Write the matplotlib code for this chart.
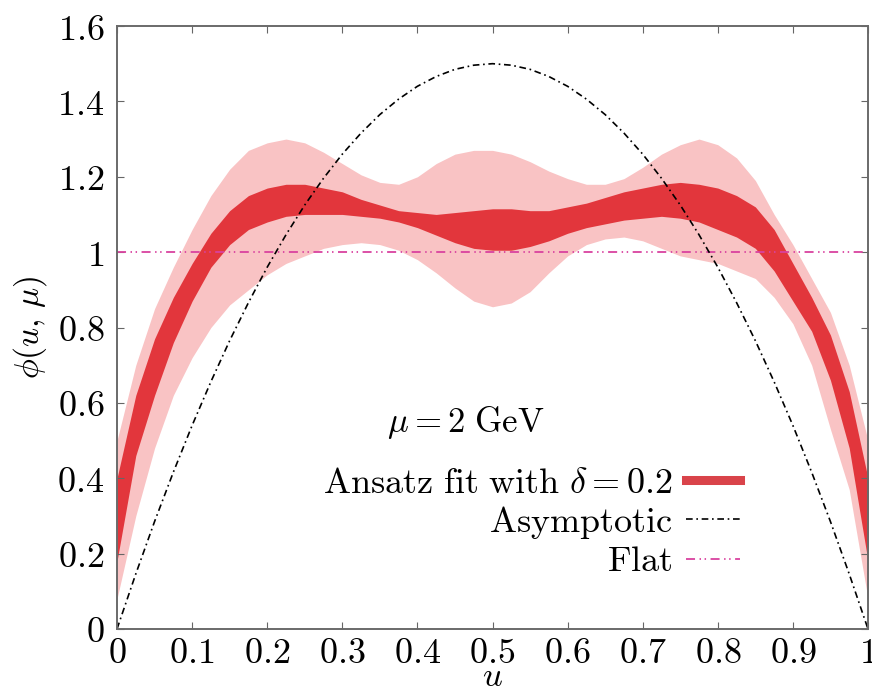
"""Pion distribution amplitude at mu = 2 GeV: ansatz fit bands vs asymptotic and flat."""

import matplotlib

matplotlib.use("Agg")
import matplotlib.pyplot as plt
from matplotlib.lines import Line2D

plt.rcParams["mathtext.fontset"] = "cm"
plt.rcParams["font.family"] = ["DejaVu Serif"]

# momentum fraction grid
u = [0.0, 0.025, 0.05, 0.075, 0.1, 0.125, 0.15, 0.175, 0.2, 0.225,
     0.25, 0.275, 0.3, 0.325, 0.35, 0.375, 0.4, 0.425, 0.45, 0.475,
     0.5, 0.525, 0.55, 0.575, 0.6, 0.625, 0.65, 0.675, 0.7, 0.725,
     0.75, 0.775, 0.8, 0.825, 0.85, 0.875, 0.9, 0.925, 0.95, 0.975, 1.0]

# inner (statistical) band
inner_hi = [0.40, 0.62, 0.77, 0.88, 0.97, 1.05, 1.11, 1.15, 1.17, 1.18,
            1.18, 1.17, 1.16, 1.14, 1.125, 1.11, 1.105, 1.10, 1.105, 1.11,
            1.115, 1.115, 1.11, 1.11, 1.12, 1.13, 1.145, 1.16, 1.17, 1.18,
            1.185, 1.18, 1.17, 1.15, 1.12, 1.06, 0.97, 0.88, 0.78, 0.63, 0.40]
inner_lo = [0.18, 0.46, 0.62, 0.76, 0.87, 0.96, 1.02, 1.06, 1.08, 1.095,
            1.10, 1.10, 1.10, 1.095, 1.09, 1.08, 1.065, 1.045, 1.025, 1.01,
            1.005, 1.005, 1.015, 1.03, 1.05, 1.065, 1.075, 1.085, 1.09, 1.095,
            1.09, 1.08, 1.06, 1.04, 1.01, 0.95, 0.87, 0.79, 0.66, 0.48, 0.18]

# outer (total) band
outer_hi = [0.50, 0.70, 0.85, 0.96, 1.06, 1.15, 1.22, 1.27, 1.29, 1.30,
            1.29, 1.265, 1.235, 1.205, 1.185, 1.18, 1.20, 1.235, 1.26, 1.27,
            1.27, 1.26, 1.24, 1.215, 1.195, 1.18, 1.18, 1.195, 1.225, 1.26,
            1.285, 1.30, 1.285, 1.25, 1.19, 1.10, 1.02, 0.93, 0.84, 0.70, 0.50]
outer_lo = [0.08, 0.30, 0.48, 0.62, 0.72, 0.80, 0.86, 0.90, 0.94, 0.97,
            0.99, 1.01, 1.02, 1.025, 1.02, 1.005, 0.98, 0.945, 0.905, 0.87,
            0.855, 0.865, 0.895, 0.945, 0.99, 1.02, 1.035, 1.04, 1.03, 1.01,
            0.99, 0.98, 0.97, 0.95, 0.93, 0.88, 0.81, 0.70, 0.53, 0.37, 0.08]

# asymptotic form
asymptotic = [0.0, 0.146, 0.285, 0.416, 0.54, 0.656, 0.765, 0.866, 0.96, 1.046,
              1.125, 1.196, 1.26, 1.316, 1.365, 1.406, 1.44, 1.466, 1.485, 1.496,
              1.5, 1.496, 1.485, 1.466, 1.44, 1.406, 1.365, 1.316, 1.26, 1.196,
              1.125, 1.046, 0.96, 0.866, 0.765, 0.656, 0.54, 0.416, 0.285, 0.146, 0.0]

flat_u = [0.0, 1.0]
flat = [1.0, 1.0]

xticks = [0.0, 0.1, 0.2, 0.3, 0.4, 0.5, 0.6, 0.7, 0.8, 0.9, 1.0]
xtick_labels = ["0", "0.1", "0.2", "0.3", "0.4", "0.5", "0.6", "0.7", "0.8", "0.9", "1"]
yticks = [0.0, 0.2, 0.4, 0.6, 0.8, 1.0, 1.2, 1.4, 1.6]
ytick_labels = ["0", "0.2", "0.4", "0.6", "0.8", "1", "1.2", "1.4", "1.6"]

RED = "#e2363c"
PINK = "#f9c3c4"
FLAT = "#d9429f"
FS = 26

fig = plt.figure(figsize=(8.72, 6.88), dpi=100)
ax = fig.add_axes([117 / 872, 59 / 688, 751 / 872, 603 / 688])

ax.fill_between(u, outer_lo, outer_hi, color=PINK, lw=0)
ax.fill_between(u, inner_lo, inner_hi, color=RED, lw=0)
ax.plot(flat_u, flat, color=FLAT, lw=1.3, dashes=(5, 2.5, 0.8, 2, 0.8, 2.5))
ax.plot(u, asymptotic, color="black", lw=1.2, dashes=(4, 2.2, 1, 2.2))

ax.set_xlim(0, 1)
ax.set_ylim(0, 1.6)
ax.set_xticks(xticks)
ax.set_xticklabels([f"${t}$" for t in xtick_labels], fontsize=FS)
ax.set_yticks(yticks)
ax.set_yticklabels([f"${t}$" for t in ytick_labels], fontsize=FS)
ax.tick_params(direction="in", top=True, right=True, length=5, width=0.8,
               color="#666666")
ax.tick_params(axis="x", pad=5)
ax.tick_params(axis="y", pad=9)
for sp in ax.spines.values():
    sp.set_color("#6a6a6a")
    sp.set_linewidth(1.4)

ax.set_xlabel(r"$u$", fontsize=25, labelpad=-8)
ax.set_ylabel(r"$\phi(u,\,\mu)$", fontsize=24, labelpad=6)

ax.text(0.465, 0.342, r"$\mu = 2\ \mathrm{GeV}$", transform=ax.transAxes,
        fontsize=25, ha="center", va="center")

handles = [
    Line2D([], [], color="#d9434a", lw=6.5),
    Line2D([], [], color="black", lw=1.2, dashes=(4, 2.2, 1, 2.2)),
    Line2D([], [], color=FLAT, lw=1.3, dashes=(5, 2.5, 0.8, 2, 0.8, 2.5)),
]
labels = [
    r"$\mathrm{Ansatz\ fit\ with}\ \delta = 0.2$",
    r"$\mathrm{Asymptotic}$",
    r"$\mathrm{Flat}$",
]
ax.legend(handles, labels, loc="upper right", frameon=False, markerfirst=False,
          fontsize=FS, handlelength=1.5, handletextpad=0.36, labelspacing=0.1,
          borderpad=0, borderaxespad=0,
          bbox_to_anchor=(740 / 872, (688 - 466) / 688),
          bbox_transform=fig.transFigure)

fig.savefig("out.png", dpi=100)
